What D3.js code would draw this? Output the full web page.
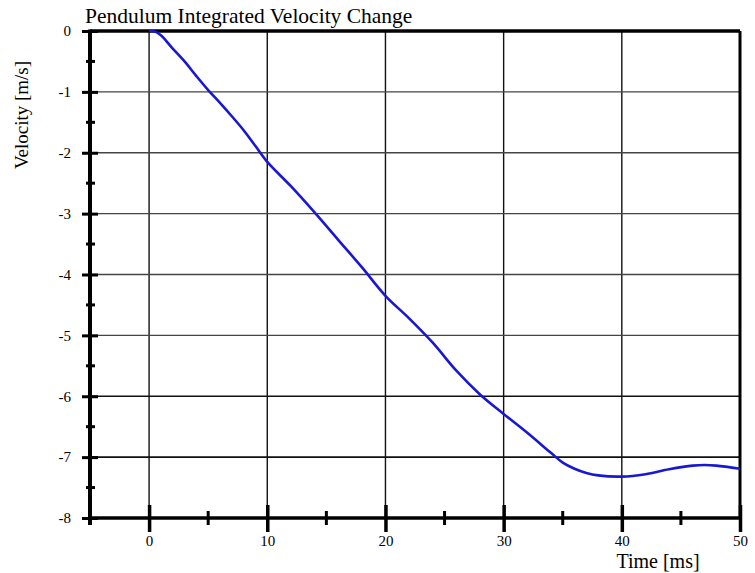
<!DOCTYPE html>
<html>
<head>
<meta charset="utf-8">
<script src="https://cdn.jsdelivr.net/npm/d3@7"></script>
<style>
  body { margin: 0; background: #fff; }
  text { font-family: "Liberation Serif", "Times New Roman", serif; fill: #000; }
</style>
</head>
<body>
<div id="chart"></div>
<script>
// time (ms) and integrated velocity change (m/s)
const timeMs = [0, 0.5, 1, 2, 3, 4, 5, 6, 7, 8, 9, 10, 12, 14, 16, 18, 20, 22, 24, 26, 28, 30,
                32, 34, 35, 36, 37, 38, 40, 42, 44, 46, 47, 48, 50]
const velocity = [0, -0.01, -0.07, -0.29, -0.50, -0.74, -0.97, -1.18, -1.40, -1.63, -1.89, -2.15,
                  -2.55, -2.98, -3.43, -3.88, -4.35, -4.72, -5.12, -5.58, -5.97, -6.29,
                  -6.60, -6.93, -7.09, -7.19, -7.26, -7.30, -7.32, -7.28, -7.20, -7.14, -7.13, -7.14, -7.19]

const xMajor = [0, 10, 20, 30, 40, 50]
const xMinor = [5, 15, 25, 35, 45]
const yMajor = [0, -1, -2, -3, -4, -5, -6, -7, -8]
const yMinor = [-0.5, -1.5, -2.5, -3.5, -4.5, -5.5, -6.5, -7.5]

const W = 755, H = 573
const M = { TOP: 31, RIGHT: 15, BOTTOM: 55, LEFT: 90 }
const width = W - M.LEFT - M.RIGHT
const height = H - M.TOP - M.BOTTOM

const svg = d3.select("#chart").append("svg")
    .attr("width", W)
    .attr("height", H)

const g = svg.append("g")
    .attr("transform", `translate(${M.LEFT}, ${M.TOP})`)

const x = d3.scaleLinear().domain([-5, 50]).range([0, width])
const y = d3.scaleLinear().domain([-8, 0]).range([height, 0])

// grid
g.selectAll(".vgrid")
    .data(xMajor.filter(d => d < 50))
    .enter().append("line")
    .attr("class", "vgrid")
    .attr("x1", d => x(d)).attr("x2", d => x(d))
    .attr("y1", 0).attr("y2", height)
    .attr("stroke", "#111").attr("stroke-width", 1.4)

g.selectAll(".hgrid")
    .data(yMajor.filter(d => d < 0 && d > -8))
    .enter().append("line")
    .attr("class", "hgrid")
    .attr("x1", 0).attr("x2", width)
    .attr("y1", d => y(d)).attr("y2", d => y(d))
    .attr("stroke", d => d <= -6 ? "#111" : "#444")
    .attr("stroke-width", d => d <= -6 ? 1.6 : 1.3)

// frame top / right
g.append("line")
    .attr("x1", 0).attr("x2", width).attr("y1", y(0)).attr("y2", y(0))
    .attr("stroke", "#000").attr("stroke-width", 3.5)
g.append("line")
    .attr("x1", x(50)).attr("x2", x(50)).attr("y1", 0).attr("y2", height)
    .attr("stroke", "#000").attr("stroke-width", 3)

// data line
const line = d3.line()
    .x((d, i) => x(timeMs[i]))
    .y(d => y(d))
    .curve(d3.curveCatmullRom.alpha(0.5))

g.append("path")
    .datum(velocity)
    .attr("d", line)
    .attr("fill", "none")
    .attr("stroke", "#1818d4")
    .attr("stroke-width", 2.6)

const fmt = d => String(d)

// y axis
const yAxis = g.append("g")
    .call(d3.axisLeft(y).tickValues(yMajor).tickFormat(fmt).tickSize(8).tickPadding(11))
yAxis.select(".domain").remove()
yAxis.selectAll(".tick line")
    .attr("x1", -8).attr("x2", 8)
    .attr("stroke", "#000").attr("stroke-width", 3)
yAxis.selectAll(".tick text")
    .style("font-family", "Liberation Serif, serif")
    .style("font-size", "15px")

g.selectAll(".yminor")
    .data(yMinor)
    .enter().append("line")
    .attr("class", "yminor")
    .attr("x1", -4).attr("x2", 5)
    .attr("y1", d => y(d)).attr("y2", d => y(d))
    .attr("stroke", "#000").attr("stroke-width", 3)

g.append("line")
    .attr("x1", 0).attr("x2", 0).attr("y1", -1.5).attr("y2", height + 7)
    .attr("stroke", "#000").attr("stroke-width", 4)

// x axis
const xAxis = g.append("g")
    .attr("transform", `translate(0, ${height})`)
    .call(d3.axisBottom(x).tickValues(xMajor).tickFormat(fmt).tickSize(14).tickPadding(3))
xAxis.select(".domain").remove()
xAxis.selectAll(".tick line")
    .attr("y1", -13).attr("y2", 14)
    .attr("stroke", "#000").attr("stroke-width", 3.5)
xAxis.selectAll(".tick text")
    .style("font-family", "Liberation Serif, serif")
    .style("font-size", "15px")

g.selectAll(".xminor")
    .data(xMinor)
    .enter().append("line")
    .attr("class", "xminor")
    .attr("x1", d => x(d)).attr("x2", d => x(d))
    .attr("y1", height - 7).attr("y2", height + 7)
    .attr("stroke", "#000").attr("stroke-width", 3)

g.append("line")
    .attr("x1", 0).attr("x2", width).attr("y1", height).attr("y2", height)
    .attr("stroke", "#000").attr("stroke-width", 3.5)

// labels
svg.append("text")
    .attr("x", 85).attr("y", 23)
    .style("font-size", "21.5px")
    .text("Pendulum Integrated Velocity Change")

svg.append("text")
    .attr("transform", "translate(28, 115) rotate(-90)")
    .attr("text-anchor", "middle")
    .style("font-size", "19px")
    .text("Velocity [m/s]")

svg.append("text")
    .attr("x", 658).attr("y", 568)
    .attr("text-anchor", "middle")
    .style("font-size", "20px")
    .text("Time [ms]")
</script>
</body>
</html>
